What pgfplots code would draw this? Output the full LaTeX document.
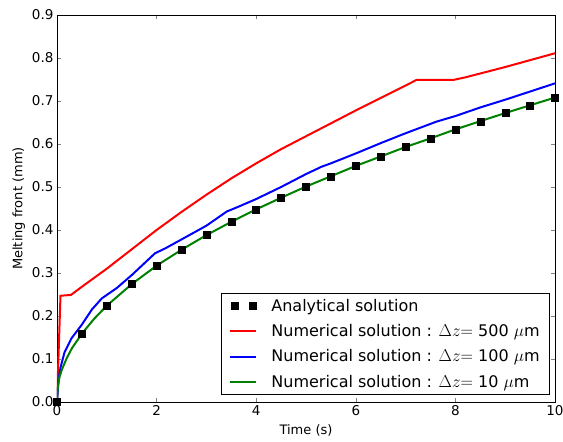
\documentclass[border=0pt]{standalone}
\usepackage{pgfplots}
\pgfplotsset{compat=1.18}
\usepackage{fontspec}
\setmainfont{DejaVu Sans}
\definecolor{mplgreen}{rgb}{0,0.5,0}
\begin{document}
\begin{tikzpicture}
\begin{axis}[
  scale only axis, width=498pt, height=387pt,
  xmin=0, xmax=10, ymin=0, ymax=0.9,
  xtick={0,2,4,6,8,10}, ytick={0,0.1,...,0.9},
  tick align=inside, major tick length=4pt,
  xtick pos=both, ytick pos=both,
  yticklabel style={/pgf/number format/.cd, fixed, fixed zerofill, precision=1},
  /pgf/number format/assume math mode=true,
  tick label style={font=\fontsize{13.5}{16}\selectfont},
  label style={font=\fontsize{13}{15}\selectfont},
  xlabel={Time (s)}, ylabel={Melting front (mm)},
  xlabel style={yshift=-2pt}, ylabel style={yshift=0pt},
  axis line style={line width=0.8pt},
  legend style={at={(1,0)}, anchor=south east, xshift=-5pt, yshift=7pt,
    font=\fontsize{16}{18}\selectfont, draw=black, line width=0.8pt,
    row sep=7.5pt, inner xsep=8pt, inner ysep=4pt},
  legend cell align=left,
  legend image code/.code={\draw[#1, line width=2pt] (0pt,0pt) -- (26pt,0pt); \path (38pt,0pt);},
]
\addplot[only marks, mark=square*, mark size=3.5pt, black,
  legend image code/.code={\fill[black] (1pt,-3.5pt) rectangle (8pt,3.5pt); \fill[black] (19pt,-3.5pt) rectangle (26pt,3.5pt); \path (38pt,0pt);}]
coordinates {(0,0) (0.5,0.158) (1,0.224) (1.5,0.274) (2,0.317) (2.5,0.354) (3,0.388) (3.5,0.419) (4,0.448) (4.5,0.475) (5,0.501) (5.5,0.525) (6,0.549) (6.5,0.571) (7,0.593) (7.5,0.613) (8,0.634) (8.5,0.653) (9,0.672) (9.5,0.690) (10,0.708)};
\addlegendentry{Analytical solution}
\addplot[red, line width=2pt] coordinates {(0,0) (0.07,0.247) (0.28,0.249) (0.5,0.268) (1,0.31) (1.5,0.355) (2,0.40) (2.5,0.442) (3,0.482) (3.5,0.52) (4,0.555) (4.5,0.588) (5,0.618) (5.5,0.648) (6,0.678) (6.5,0.707) (7,0.736) (7.22,0.749) (7.96,0.749) (8.2,0.755) (8.5,0.764) (9,0.779) (9.5,0.795) (10,0.811)};
\addlegendentry{Numerical solution : $\Delta z{=}$ 500 $\mu$m}
\addplot[blue, line width=2pt] coordinates {(0,0) (0.03,0.05) (0.07,0.08) (0.15,0.115) (0.29,0.148) (0.5,0.18) (0.7,0.215) (0.9,0.241) (1.2,0.265) (1.5,0.295) (1.97,0.346) (2.17,0.357) (2.5,0.378) (3,0.41) (3.41,0.443) (3.64,0.454) (4,0.472) (4.5,0.50) (5,0.53) (5.31,0.547) (5.5,0.555) (6,0.578) (6.5,0.602) (7,0.625) (7.62,0.652) (8,0.665) (8.5,0.685) (9,0.703) (9.5,0.722) (10,0.741)};
\addlegendentry{Numerical solution : $\Delta z{=}$ 100 $\mu$m}
\addplot[mplgreen, line width=2pt] coordinates {(0,0) (0.01,0.025) (0.02,0.036) (0.05,0.058) (0.1,0.076) (0.2,0.103) (0.3,0.125) (0.5,0.159) (0.75,0.194) (1,0.224) (1.5,0.274) (2,0.317) (2.5,0.354) (3,0.388) (3.5,0.419) (4,0.448) (4.5,0.475) (5,0.501) (5.5,0.525) (6,0.549) (6.5,0.571) (7,0.593) (7.5,0.613) (8,0.634) (8.5,0.653) (9,0.672) (9.5,0.690) (10,0.708)};
\addlegendentry{Numerical solution : $\Delta z{=}$ 10 $\mu$m}
\end{axis}
\pgfresetboundingbox
\path ([xshift=-57pt,yshift=-40pt]current axis.south west) rectangle ([xshift=8pt,yshift=15pt]current axis.north east);
\end{tikzpicture}
\end{document}
